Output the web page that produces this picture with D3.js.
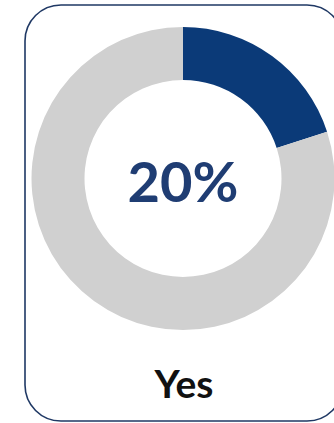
<!DOCTYPE html>
<html>
<head>
<meta charset="utf-8">
<script src="https://cdn.jsdelivr.net/npm/d3@7"></script>
<style>
  html, body { margin: 0; padding: 0; background: #fff; }
  svg { display: block; }
</style>
</head>
<body>
<svg id="chart" width="334" height="423"></svg>
<script>
// Share of respondents answering "Yes" versus the remainder
const categories = ["Yes", "Other"];
const values = [20, 80];
const colors = ["#0b3a78", "#d0d0d0"];
const centerLabel = "20%";
const caption = "Yes";

const svg = d3.select("#chart");

// Card outline
svg.append("rect")
  .attr("x", 25).attr("y", 5)
  .attr("width", 318).attr("height", 416)
  .attr("rx", 36).attr("ry", 36)
  .attr("fill", "#fff")
  .attr("stroke", "#1f3864")
  .attr("stroke-width", 1.6);

const cx = 183, cy = 178.5;
const pie = d3.pie().sort(null).value(d => d)(values);
const arc = d3.arc().innerRadius(98.5).outerRadius(151.5);

const g = svg.append("g").attr("transform", `translate(${cx},${cy})`);
g.selectAll("path")
  .data(pie)
  .join("path")
  .attr("d", arc)
  .attr("fill", (d, i) => colors[i]);

svg.append("text")
  .attr("x", cx).attr("y", 202)
  .attr("text-anchor", "middle")
  .attr("font-family", "Lato, 'Open Sans', sans-serif")
  .attr("font-weight", 700)
  .attr("font-size", 56)
  .attr("fill", "#1f3d73")
  .text(centerLabel);

svg.append("text")
  .attr("x", 184).attr("y", 398)
  .attr("text-anchor", "middle")
  .attr("font-family", "Lato, 'Open Sans', sans-serif")
  .attr("font-weight", 700)
  .attr("font-size", 39)
  .attr("fill", "#111")
  .text(caption);
</script>
</body>
</html>
